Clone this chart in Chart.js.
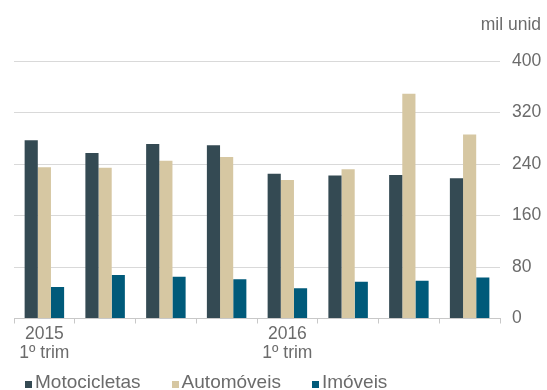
<!DOCTYPE html>
<html lang="pt">
<head>
<meta charset="UTF-8">
<title>Motocicletas, automóveis e imóveis</title>
<script src="https://cdn.jsdelivr.net/npm/chart.js"></script>
<style>
    body { margin: 0; background: #ffffff; }
    .wrap { position: relative; width: 547px; height: 390px; }
    .legend {
        position: absolute; left: 25px; top: 371px;
        display: flex; font-family: "Liberation Sans", Arial, sans-serif;
        font-size: 19px; color: #6b6b6b; line-height: 22px;
    }
    .legend span.item { display: flex; align-items: baseline; margin-right: 31px; }
    .legend span.box { display: inline-block; width: 7px; height: 7px; margin-right: 3px; }
</style>
</head>
<body>
<div class="wrap">
    <canvas id="chart" width="547" height="390"></canvas>
    <div class="legend" id="legend"></div>
</div>
<script>
// dados (mil unidades, por trimestre)
const labels = [['2015', '1º trim'], '', '', '', ['2016', '1º trim'], '', '', ''];
const motocicletas = [277, 257, 271, 269, 225, 222, 223, 218];
const automoveis = [235, 234, 245, 251, 215, 232, 349, 286];
const imoveis = [49, 67.5, 65, 61, 47, 57, 58.5, 63.5];
const seriesNames = ['Motocicletas', 'Automóveis', 'Imóveis'];
const seriesColors = ['#344a53', '#d6c7a2', '#005a7a'];
const yTicks = [0, 80, 160, 240, 320, 400];

const gray = '#6b6b6b';
const font = { family: '"Liberation Sans", Arial, sans-serif', size: 17.5 };

new Chart(document.getElementById('chart'), {
    type: 'bar',
    data: {
        labels: labels,
        datasets: [motocicletas, automoveis, imoveis].map((d, i) => ({
            label: seriesNames[i],
            data: d,
            backgroundColor: seriesColors[i],
            categoryPercentage: 0.65,
            barPercentage: 1.0
        }))
    },
    options: {
        responsive: false,
        animation: false,
        layout: { padding: { left: 14, right: 6, top: 0, bottom: 26 } },
        plugins: {
            legend: { display: false },
            tooltip: { enabled: false },
            title: {
                display: true, text: 'mil unid', align: 'end',
                color: gray, font: Object.assign({ weight: 'normal' }, font),
                padding: { top: 15, bottom: 25 }
            }
        },
        scales: {
            x: {
                grid: { drawOnChartArea: false, tickLength: 5, color: '#c8c8c8' },
                border: { color: '#c8c8c8' },
                ticks: {
                    color: gray, font: Object.assign({ lineHeight: 1.1 }, font),
                    autoSkip: false, maxRotation: 0, padding: 1
                }
            },
            y: {
                position: 'right',
                min: 0, max: 400,
                afterBuildTicks: axis => { axis.ticks = yTicks.map(v => ({ value: v })); },
                afterFit: axis => { axis.width = 41; },
                grid: { color: '#d9d9d9', drawTicks: false },
                border: { display: false },
                ticks: { color: gray, font: font, padding: 12 }
            }
        }
    }
});

// legenda
const legend = document.getElementById('legend');
seriesNames.forEach((name, i) => {
    const item = document.createElement('span');
    item.className = 'item';
    const box = document.createElement('span');
    box.className = 'box';
    box.style.background = seriesColors[i];
    item.appendChild(box);
    item.appendChild(document.createTextNode(name));
    legend.appendChild(item);
});
</script>
</body>
</html>
